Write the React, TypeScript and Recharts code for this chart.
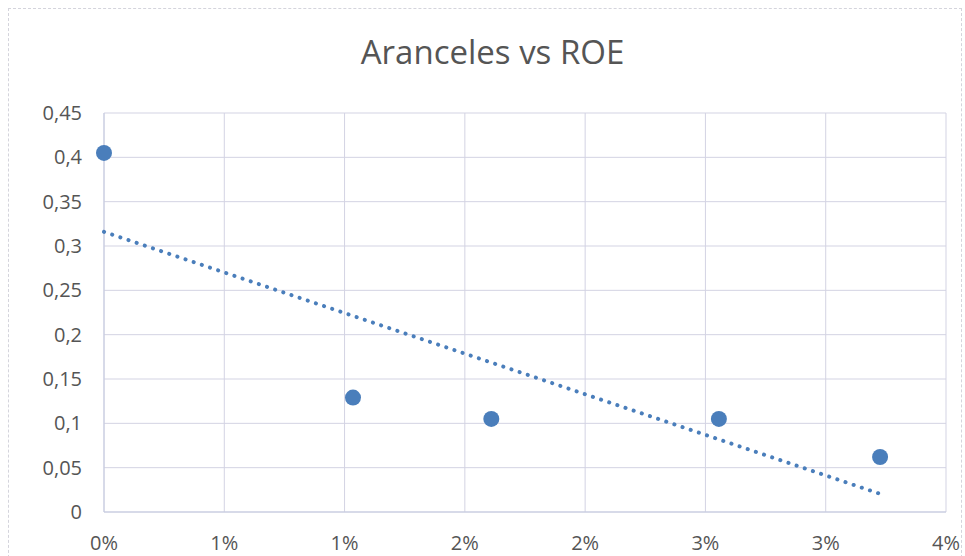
import { ScatterChart, Scatter, XAxis, YAxis, CartesianGrid } from 'recharts'

const points = [
  { x: 0, y: 0.405 },
  { x: 0.01035, y: 0.129 },
  { x: 0.0161, y: 0.105 },
  { x: 0.02556, y: 0.105 },
  { x: 0.03226, y: 0.062 }
]

// linear trendline, ends
const trend = [
  { x: 0, y: 0.316 },
  { x: 0.0322, y: 0.021 }
]

const xTicks = [0, 0.005, 0.01, 0.015, 0.02, 0.025, 0.03, 0.035]
const xTickLabels = ['0%', '1%', '1%', '2%', '2%', '3%', '3%', '4%']
const yTicks = [0, 0.05, 0.1, 0.15, 0.2, 0.25, 0.3, 0.35, 0.4, 0.45]
const yTickLabels = ['0', '0,05', '0,1', '0,15', '0,2', '0,25', '0,3', '0,35', '0,4', '0,45']

const font = 'Open Sans, Lato, sans-serif'
const tickStyle = { fill: '#555', fontSize: 20, fontFamily: font }

const Dot = (props: any) => <circle cx={props.cx} cy={props.cy} r={8} fill="#4a7ebb" />

const App = () => {
  return (
    <div style={{ position: 'absolute', left: 0, top: 0, width: 965, height: 556, background: '#fff' }}>
      <div
        style={{
          position: 'absolute', left: 8, top: 8, width: 954, height: 560,
          border: '1px dashed #d4d4dc', boxSizing: 'border-box'
        }}
      />
      <div
        style={{
          position: 'absolute', left: 0, top: 29, width: 985, textAlign: 'center',
          fontFamily: font, fontSize: 33, color: '#555'
        }}
      >
        Aranceles vs ROE
      </div>
      <ScatterChart width={965} height={556} margin={{ top: 113, right: 19, bottom: 0, left: 0 }}>
        <CartesianGrid stroke="#d3d3e3" horizontal vertical />
        <XAxis
          type="number"
          dataKey="x"
          domain={[0, 0.035]}
          ticks={xTicks}
          tickFormatter={(_v: number, i: number) => xTickLabels[i]}
          axisLine={{ stroke: '#c5cbe0' }}
          tickLine={false}
          tick={tickStyle}
          tickMargin={18}
          height={44}
          interval={0}
        />
        <YAxis
          type="number"
          dataKey="y"
          domain={[0, 0.45]}
          ticks={yTicks}
          tickFormatter={(_v: number, i: number) => yTickLabels[i]}
          axisLine={{ stroke: '#c5cbe0' }}
          tickLine={false}
          tick={tickStyle}
          tickMargin={16}
          width={104}
          interval={0}
        />
        <Scatter
          data={trend}
          line={{ stroke: '#4a7ebb', strokeWidth: 4, strokeDasharray: '0.1 8.5', strokeLinecap: 'round' }}
          shape={() => <g />}
          isAnimationActive={false}
        />
        <Scatter data={points} shape={Dot} isAnimationActive={false} />
      </ScatterChart>
    </div>
  )
}

export default App
